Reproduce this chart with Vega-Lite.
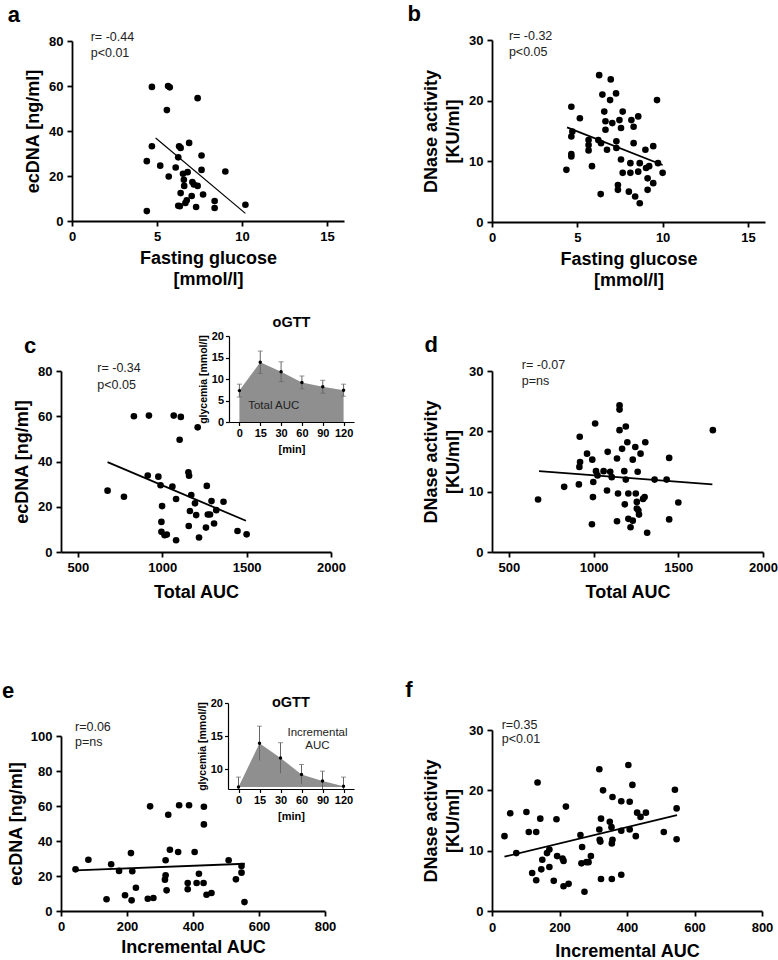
{
"$schema": "https://vega.github.io/schema/vega-lite/v6.json",
"width": 778, "height": 960, "padding": 0, "autosize": {"type": "none"},
"background": "white",
"config": {
 "view": {"stroke": null},
 "font": "Liberation Sans",
 "axis": {"grid": false, "domainColor": "#000", "tickColor": "#000", "labelColor": "#000", "titleColor": "#000", "labelFont": "Liberation Sans", "titleFont": "Liberation Sans", "labelFontWeight": "bold", "titleFontWeight": "bold", "labelFontSize": 13, "titleFontSize": 18, "domainWidth": 1.8, "tickWidth": 1.8, "tickSize": 5, "labelFlush": false, "labelOverlap": false, "format": "d"}
},
"datasets": {
 "a": [
  {"glucose":4.70,"ecdna":59.6},{"glucose":5.65,"ecdna":60.0},{"glucose":5.75,"ecdna":59.4},{"glucose":7.39,"ecdna":54.6},{"glucose":5.58,"ecdna":49.3},{"glucose":4.70,"ecdna":33.2},{"glucose":6.30,"ecdna":33.2},{"glucose":6.39,"ecdna":32.5},{"glucose":6.89,"ecdna":34.7},{"glucose":6.25,"ecdna":28.3},{"glucose":7.62,"ecdna":29.1},{"glucose":4.40,"ecdna":26.6},{"glucose":5.19,"ecdna":24.6},{"glucose":6.10,"ecdna":23.8},{"glucose":7.62,"ecdna":22.7},{"glucose":9.02,"ecdna":22.0},{"glucose":5.69,"ecdna":19.8},{"glucose":6.53,"ecdna":21.0},{"glucose":6.80,"ecdna":21.7},{"glucose":6.58,"ecdna":18.3},{"glucose":6.60,"ecdna":15.6},{"glucose":7.08,"ecdna":17.3},{"glucose":7.17,"ecdna":16.2},{"glucose":7.39,"ecdna":15.6},{"glucose":6.39,"ecdna":12.4},{"glucose":7.71,"ecdna":11.8},{"glucose":7.04,"ecdna":11.1},{"glucose":6.75,"ecdna":9.2},{"glucose":6.67,"ecdna":8.0},{"glucose":6.34,"ecdna":6.6},{"glucose":6.25,"ecdna":6.8},{"glucose":7.30,"ecdna":6.2},{"glucose":8.39,"ecdna":8.9},{"glucose":8.39,"ecdna":5.8},{"glucose":10.2,"ecdna":7.2},{"glucose":4.40,"ecdna":4.4}
 ],
 "b": [
  {"glucose":4.36,"dnase":8.6},{"glucose":4.65,"dnase":19.0},{"glucose":4.65,"dnase":14.1},{"glucose":4.65,"dnase":10.8},{"glucose":4.65,"dnase":11.2},{"glucose":4.71,"dnase":14.9},{"glucose":5.15,"dnase":17.1},{"glucose":5.66,"dnase":13.5},{"glucose":5.66,"dnase":12.7},{"glucose":5.66,"dnase":11.8},{"glucose":5.86,"dnase":9.2},{"glucose":6.23,"dnase":13.5},{"glucose":6.28,"dnase":24.2},{"glucose":6.37,"dnase":4.6},{"glucose":6.39,"dnase":13.0},{"glucose":6.47,"dnase":21.0},{"glucose":6.58,"dnase":18.2},{"glucose":6.65,"dnase":16.6},{"glucose":6.65,"dnase":15.2},{"glucose":6.74,"dnase":11.9},{"glucose":6.92,"dnase":20.1},{"glucose":6.96,"dnase":23.5},{"glucose":7.05,"dnase":16.3},{"glucose":7.27,"dnase":21.2},{"glucose":7.29,"dnase":13.3},{"glucose":7.29,"dnase":12.2},{"glucose":7.47,"dnase":16.8},{"glucose":7.56,"dnase":15.5},{"glucose":7.66,"dnase":18.2},{"glucose":7.56,"dnase":10.3},{"glucose":7.38,"dnase":6.1},{"glucose":7.38,"dnase":5.3},{"glucose":7.66,"dnase":8.1},{"glucose":8.02,"dnase":5.0},{"glucose":8.11,"dnase":9.7},{"glucose":8.11,"dnase":8.1},{"glucose":8.17,"dnase":16.8},{"glucose":8.30,"dnase":15.7},{"glucose":8.30,"dnase":13.0},{"glucose":8.39,"dnase":4.2},{"glucose":8.57,"dnase":17.4},{"glucose":8.57,"dnase":8.3},{"glucose":8.66,"dnase":3.1},{"glucose":8.66,"dnase":9.7},{"glucose":8.99,"dnase":11.9},{"glucose":9.03,"dnase":8.9},{"glucose":9.12,"dnase":7.2},{"glucose":9.12,"dnase":5.3},{"glucose":9.21,"dnase":9.2},{"glucose":9.45,"dnase":12.5},{"glucose":9.45,"dnase":6.4},{"glucose":9.73,"dnase":9.7},{"glucose":9.67,"dnase":20.1},{"glucose":10.0,"dnase":8.1}
 ],
 "c": [
  {"auc":676,"ecdna":27.1},{"auc":773,"ecdna":24.4},{"auc":832,"ecdna":60.0},{"auc":921,"ecdna":60.3},{"auc":914,"ecdna":33.8},{"auc":977,"ecdna":33.3},{"auc":990,"ecdna":29.5},{"auc":999,"ecdna":20.3},{"auc":995,"ecdna":13.3},{"auc":995,"ecdna":8.9},{"auc":1014,"ecdna":7.4},{"auc":1027,"ecdna":7.7},{"auc":1082,"ecdna":5.2},{"auc":1060,"ecdna":28.9},{"auc":1068,"ecdna":60.3},{"auc":1110,"ecdna":59.7},{"auc":1103,"ecdna":49.6},{"auc":1082,"ecdna":23.4},{"auc":1157,"ecdna":11.5},{"auc":1155,"ecdna":35.2},{"auc":1159,"ecdna":33.7},{"auc":1172,"ecdna":25.2},{"auc":1164,"ecdna":18.1},{"auc":1194,"ecdna":21.5},{"auc":1201,"ecdna":16.3},{"auc":1210,"ecdna":55.1},{"auc":1218,"ecdna":6.4},{"auc":1259,"ecdna":10.8},{"auc":1264,"ecdna":29.2},{"auc":1270,"ecdna":16.6},{"auc":1283,"ecdna":16.6},{"auc":1292,"ecdna":22.5},{"auc":1307,"ecdna":12.6},{"auc":1320,"ecdna":18.5},{"auc":1363,"ecdna":22.2},{"auc":1446,"ecdna":9.3},{"auc":1500,"ecdna":7.8}
 ],
 "d": [
  {"auc":672,"dnase":8.7},{"auc":826,"dnase":10.8},{"auc":913,"dnase":11.2},{"auc":916,"dnase":14.1},{"auc":920,"dnase":14.9},{"auc":918,"dnase":19.1},{"auc":961,"dnase":16.3},{"auc":992,"dnase":15.3},{"auc":998,"dnase":11.6},{"auc":996,"dnase":9.1},{"auc":990,"dnase":4.6},{"auc":1009,"dnase":21.3},{"auc":1014,"dnase":13.4},{"auc":1023,"dnase":12.7},{"auc":1059,"dnase":13.4},{"auc":1083,"dnase":16.6},{"auc":1079,"dnase":10.2},{"auc":1098,"dnase":13.3},{"auc":1107,"dnase":12.4},{"auc":1138,"dnase":15.5},{"auc":1144,"dnase":9.7},{"auc":1138,"dnase":5.1},{"auc":1153,"dnase":24.3},{"auc":1153,"dnase":23.6},{"auc":1153,"dnase":20.2},{"auc":1168,"dnase":17.1},{"auc":1181,"dnase":13.4},{"auc":1190,"dnase":20.8},{"auc":1190,"dnase":12.0},{"auc":1184,"dnase":7.9},{"auc":1199,"dnase":18.2},{"auc":1205,"dnase":9.7},{"auc":1205,"dnase":5.5},{"auc":1218,"dnase":4.1},{"auc":1231,"dnase":15.3},{"auc":1231,"dnase":5.2},{"auc":1246,"dnase":17.4},{"auc":1249,"dnase":9.7},{"auc":1255,"dnase":8.3},{"auc":1255,"dnase":7.2},{"auc":1264,"dnase":6.9},{"auc":1268,"dnase":6.2},{"auc":1277,"dnase":16.3},{"auc":1260,"dnase":13.3},{"auc":1292,"dnase":8.8},{"auc":1301,"dnase":9.1},{"auc":1305,"dnase":18.2},{"auc":1316,"dnase":3.2},{"auc":1360,"dnase":12.0},{"auc":1431,"dnase":12.0},{"auc":1446,"dnase":15.6},{"auc":1446,"dnase":5.4},{"auc":1500,"dnase":8.2},{"auc":1704,"dnase":20.2}
 ],
 "e": [
  {"iauc":44,"ecdna":23.8},{"iauc":83,"ecdna":29.3},{"iauc":152,"ecdna":26.7},{"iauc":176,"ecdna":22.9},{"iauc":138,"ecdna":6.7},{"iauc":194,"ecdna":9.0},{"iauc":212,"ecdna":33.1},{"iauc":214,"ecdna":6.1},{"iauc":216,"ecdna":22.7},{"iauc":227,"ecdna":13.3},{"iauc":263,"ecdna":7.0},{"iauc":280,"ecdna":7.4},{"iauc":270,"ecdna":59.8},{"iauc":317,"ecdna":29.0},{"iauc":317,"ecdna":20.4},{"iauc":315,"ecdna":17.9},{"iauc":320,"ecdna":11.8},{"iauc":325,"ecdna":55.0},{"iauc":330,"ecdna":35.0},{"iauc":355,"ecdna":33.7},{"iauc":358,"ecdna":60.4},{"iauc":384,"ecdna":16.0},{"iauc":384,"ecdna":12.4},{"iauc":388,"ecdna":60.4},{"iauc":405,"ecdna":33.7},{"iauc":411,"ecdna":16.0},{"iauc":418,"ecdna":21.3},{"iauc":432,"ecdna":16.0},{"iauc":441,"ecdna":9.3},{"iauc":456,"ecdna":10.3},{"iauc":433,"ecdna":59.6},{"iauc":433,"ecdna":49.5},{"iauc":508,"ecdna":29.0},{"iauc":547,"ecdna":25.7},{"iauc":547,"ecdna":21.9},{"iauc":530,"ecdna":18.1},{"iauc":556,"ecdna":5.1}
 ],
 "f": [
  {"iauc":37,"dnase":12.4},{"iauc":54,"dnase":16.2},{"iauc":72,"dnase":9.6},{"iauc":102,"dnase":16.4},{"iauc":109,"dnase":13.1},{"iauc":119,"dnase":6.3},{"iauc":131,"dnase":13.1},{"iauc":131,"dnase":5.1},{"iauc":135,"dnase":21.3},{"iauc":143,"dnase":15.3},{"iauc":146,"dnase":6.9},{"iauc":149,"dnase":8.5},{"iauc":163,"dnase":9.6},{"iauc":170,"dnase":10.2},{"iauc":170,"dnase":7.3},{"iauc":183,"dnase":5.0},{"iauc":191,"dnase":15.2},{"iauc":193,"dnase":9.1},{"iauc":209,"dnase":8.7},{"iauc":212,"dnase":8.3},{"iauc":212,"dnase":4.1},{"iauc":227,"dnase":4.5},{"iauc":219,"dnase":17.3},{"iauc":262,"dnase":12.6},{"iauc":265,"dnase":7.9},{"iauc":267,"dnase":10.6},{"iauc":274,"dnase":3.2},{"iauc":280,"dnase":8.1},{"iauc":286,"dnase":8.1},{"iauc":293,"dnase":9.1},{"iauc":318,"dnase":23.5},{"iauc":318,"dnase":13.5},{"iauc":319,"dnase":11.8},{"iauc":321,"dnase":11.5},{"iauc":323,"dnase":15.3},{"iauc":323,"dnase":5.3},{"iauc":329,"dnase":20.0},{"iauc":349,"dnase":14.8},{"iauc":354,"dnase":13.9},{"iauc":355,"dnase":11.2},{"iauc":357,"dnase":11.8},{"iauc":357,"dnase":18.9},{"iauc":355,"dnase":5.3},{"iauc":383,"dnase":18.2},{"iauc":383,"dnase":13.3},{"iauc":383,"dnase":6.0},{"iauc":404,"dnase":24.2},{"iauc":408,"dnase":18.1},{"iauc":408,"dnase":13.5},{"iauc":416,"dnase":20.9},{"iauc":426,"dnase":12.4},{"iauc":430,"dnase":16.3},{"iauc":440,"dnase":15.6},{"iauc":456,"dnase":16.3},{"iauc":509,"dnase":13.1},{"iauc":542,"dnase":20.1},{"iauc":547,"dnase":17.0},{"iauc":547,"dnase":11.9}
 ],
 "ogtt": [
  {"time":"0","glyc":7.3,"lo":5.8,"hi":8.8},
  {"time":"15","glyc":13.9,"lo":11.3,"hi":16.5},
  {"time":"30","glyc":11.7,"lo":9.4,"hi":14.0},
  {"time":"60","glyc":9.2,"lo":7.7,"hi":10.7},
  {"time":"90","glyc":8.2,"lo":6.7,"hi":9.7},
  {"time":"120","glyc":7.4,"lo":6.0,"hi":8.8}
 ]
},
"layer": [
 {
  "data": {"name": "a"},
  "layer": [
   {"mark": {"type": "circle", "size": 44, "color": "#000", "opacity": 1},
    "encoding": {
     "x": {"field": "glucose", "type": "quantitative", "scale": {"domain": [0, 15], "range": [72, 344]}, "axis": {"orient": "bottom", "offset": -739, "values": [0, 5, 10, 15], "title": ["Fasting glucose", "[mmol/l]"], "titleLineHeight": 21, "labelPadding": 4, "titlePadding": 6}},
     "y": {"field": "ecdna", "type": "quantitative", "scale": {"domain": [0, 80], "range": [221, 41]}, "axis": {"orient": "left", "offset": -72, "values": [0, 20, 40, 60, 80], "title": "ecDNA [ng/ml]", "labelPadding": 4, "titlePadding": 6}}}},
   {"data": {"values": [{"glucose": 4.92, "ecdna": 36.9}, {"glucose": 10.2, "ecdna": 3.4}]},
    "mark": {"type": "line", "color": "#000", "strokeWidth": 1.2},
    "encoding": {"x": {"field": "glucose", "type": "quantitative"}, "y": {"field": "ecdna", "type": "quantitative"}}},
   {"data": {"values": [{}]},
    "mark": {"type": "text", "text": ["r= -0.44", "p<0.01"], "align": "left", "baseline": "top", "fontSize": 12.5, "lineHeight": 16.5, "color": "#222"},
    "encoding": {"x": {"datum": 1.1}, "y": {"datum": 84.6}}},
   {"data": {"values": [{}]},
    "mark": {"type": "text", "text": "a", "align": "center", "baseline": "middle", "fontSize": 22, "fontWeight": "bold", "color": "#000"},
    "encoding": {"x": {"datum": -3.42}, "y": {"datum": 91.4}}}
  ]
 },
 {
  "data": {"name": "b"},
  "layer": [
   {"mark": {"type": "circle", "size": 44, "color": "#000", "opacity": 1},
    "encoding": {
     "x": {"field": "glucose", "type": "quantitative", "scale": {"domain": [0, 15], "range": [492, 765]}, "axis": {"orient": "bottom", "offset": -738, "values": [0, 5, 10, 15], "title": ["Fasting glucose", "[mmol/l]"], "titleLineHeight": 21, "labelPadding": 4, "titlePadding": 6}},
     "y": {"field": "dnase", "type": "quantitative", "scale": {"domain": [0, 30], "range": [222, 40]}, "axis": {"orient": "left", "offset": -492, "values": [0, 10, 20, 30], "title": ["DNase activity", "[KU/ml]"], "titleLineHeight": 22, "labelPadding": 4, "titlePadding": 6}}}},
   {"data": {"values": [{"glucose": 4.4, "dnase": 15.6}, {"glucose": 10.0, "dnase": 9.4}]},
    "mark": {"type": "line", "color": "#000", "strokeWidth": 1.8},
    "encoding": {"x": {"field": "glucose", "type": "quantitative"}, "y": {"field": "dnase", "type": "quantitative"}}},
   {"data": {"values": [{}]},
    "mark": {"type": "text", "text": ["r= -0.32", "p<0.05"], "align": "left", "baseline": "top", "fontSize": 12.5, "lineHeight": 16.5, "color": "#222"},
    "encoding": {"x": {"datum": 0.99}, "y": {"datum": 31.73}}},
   {"data": {"values": [{}]},
    "mark": {"type": "text", "text": "b", "align": "center", "baseline": "middle", "fontSize": 22, "fontWeight": "bold", "color": "#000"},
    "encoding": {"x": {"datum": -4.56}, "y": {"datum": 34.3}}}
  ]
 },
 {
  "data": {"name": "c"},
  "layer": [
   {"mark": {"type": "circle", "size": 44, "color": "#000", "opacity": 1},
    "encoding": {
     "x": {"field": "auc", "type": "quantitative", "scale": {"domain": [500, 2000], "range": [61, 331]}, "axis": {"orient": "bottom", "offset": -408, "values": [500, 1000, 1500, 2000], "title": "Total AUC", "labelPadding": 4, "titlePadding": 9}},
     "y": {"field": "ecdna", "type": "quantitative", "scale": {"domain": [0, 80], "range": [552, 371]}, "axis": {"orient": "left", "offset": -61, "values": [0, 20, 40, 60, 80], "title": "ecDNA [ng/ml]", "labelPadding": 4, "titlePadding": 6}}}},
   {"data": {"values": [{"auc": 676, "ecdna": 39.7}, {"auc": 1496, "ecdna": 13.8}]},
    "mark": {"type": "line", "color": "#000", "strokeWidth": 1.8},
    "encoding": {"x": {"field": "auc", "type": "quantitative"}, "y": {"field": "ecdna", "type": "quantitative"}}},
   {"data": {"values": [{}]},
    "mark": {"type": "text", "text": ["r= -0.34", "p<0.05"], "align": "left", "baseline": "top", "fontSize": 12.5, "lineHeight": 16.5, "color": "#222"},
    "encoding": {"x": {"datum": 615}, "y": {"datum": 83.9}}},
   {"data": {"values": [{}]},
    "mark": {"type": "text", "text": "c", "align": "center", "baseline": "middle", "fontSize": 22, "fontWeight": "bold", "color": "#000"},
    "encoding": {"x": {"datum": 217}, "y": {"datum": 91}}}
  ]
 },
 {
  "data": {"name": "ogtt"},
  "layer": [
   {"mark": {"type": "area", "color": "#8f8f8f", "opacity": 1},
    "encoding": {
     "x": {"field": "time", "type": "ordinal", "sort": null, "scale": {"type": "point", "domain": ["0", "15", "30", "60", "90", "120"], "range": [229, 354], "padding": 0.5}, "axis": {"orient": "bottom", "offset": -538, "title": "[min]", "labelFontSize": 11, "titleFontSize": 11, "labelAngle": 0, "tickSize": 3.5, "domainWidth": 1.2, "tickWidth": 1.2, "labelPadding": 2, "titlePadding": 5, "format": null}},
     "y": {"field": "glyc", "type": "quantitative", "scale": {"domain": [0, 20], "range": [422, 336]}, "axis": {"orient": "left", "offset": -229, "values": [0, 5, 10, 15, 20], "title": "glycemia [mmol/l]", "labelFontSize": 11, "titleFontSize": 10.5, "tickSize": 3.5, "domainWidth": 1.2, "tickWidth": 1.2, "labelPadding": 2, "titlePadding": 3}}}},
   {"mark": {"type": "rule", "color": "#666", "strokeWidth": 1},
    "encoding": {"x": {"field": "time", "type": "ordinal"}, "y": {"field": "lo", "type": "quantitative"}, "y2": {"field": "hi"}}},
   {"mark": {"type": "tick", "color": "#666", "size": 5, "thickness": 1, "orient": "horizontal"},
    "encoding": {"x": {"field": "time", "type": "ordinal"}, "y": {"field": "lo", "type": "quantitative"}}},
   {"mark": {"type": "tick", "color": "#666", "size": 5, "thickness": 1, "orient": "horizontal"},
    "encoding": {"x": {"field": "time", "type": "ordinal"}, "y": {"field": "hi", "type": "quantitative"}}},
   {"mark": {"type": "circle", "size": 12, "color": "#000", "opacity": 1},
    "encoding": {"x": {"field": "time", "type": "ordinal"}, "y": {"field": "glyc", "type": "quantitative"}}},
   {"data": {"values": [{}]},
    "mark": {"type": "text", "text": "oGTT", "align": "center", "baseline": "middle", "fontSize": 14.5, "fontWeight": "bold", "color": "#000", "dx": 10.4},
    "encoding": {"x": {"datum": "30", "type": "ordinal"}, "y": {"datum": 23.1}}},
   {"data": {"values": [{}]},
    "mark": {"type": "text", "text": "Total AUC", "align": "center", "baseline": "middle", "fontSize": 11.5, "color": "#222", "dx": 13.5},
    "encoding": {"x": {"datum": "15", "type": "ordinal"}, "y": {"datum": 3.8}}}
  ]
 },
 {
  "data": {"name": "d"},
  "layer": [
   {"mark": {"type": "circle", "size": 44, "color": "#000", "opacity": 1},
    "encoding": {
     "x": {"field": "auc", "type": "quantitative", "scale": {"domain": [500, 2000], "range": [492, 763]}, "axis": {"orient": "bottom", "offset": -408, "values": [500, 1000, 1500, 2000], "title": "Total AUC", "labelPadding": 4, "titlePadding": 9}},
     "y": {"field": "dnase", "type": "quantitative", "scale": {"domain": [0, 30], "range": [552, 371]}, "axis": {"orient": "left", "offset": -492, "values": [0, 10, 20, 30], "title": ["DNase activity", "[KU/ml]"], "titleLineHeight": 22, "labelPadding": 4, "titlePadding": 6}}}},
   {"data": {"values": [{"auc": 678, "dnase": 13.4}, {"auc": 1701, "dnase": 11.2}]},
    "mark": {"type": "line", "color": "#000", "strokeWidth": 1.8},
    "encoding": {"x": {"field": "auc", "type": "quantitative"}, "y": {"field": "dnase", "type": "quantitative"}}},
   {"data": {"values": [{}]},
    "mark": {"type": "text", "text": ["r= -0.07", "p=ns"], "align": "left", "baseline": "top", "fontSize": 12.5, "lineHeight": 16.5, "color": "#222"},
    "encoding": {"x": {"datum": 576}, "y": {"datum": 32.0}}},
   {"data": {"values": [{}]},
    "mark": {"type": "text", "text": "d", "align": "center", "baseline": "middle", "fontSize": 22, "fontWeight": "bold", "color": "#000"},
    "encoding": {"x": {"datum": 41}, "y": {"datum": 34.3}}}
  ]
 },
 {
  "data": {"name": "e"},
  "layer": [
   {"mark": {"type": "circle", "size": 44, "color": "#000", "opacity": 1},
    "encoding": {
     "x": {"field": "iauc", "type": "quantitative", "scale": {"domain": [0, 800], "range": [61, 325]}, "axis": {"orient": "bottom", "offset": -49, "values": [0, 200, 400, 600, 800], "title": "Incremental AUC", "labelPadding": 4, "titlePadding": 5}},
     "y": {"field": "ecdna", "type": "quantitative", "scale": {"domain": [0, 100], "range": [911, 736]}, "axis": {"orient": "left", "offset": -61, "values": [0, 20, 40, 60, 80, 100], "title": "ecDNA [ng/ml]", "labelPadding": 4, "titlePadding": 5}}}},
   {"data": {"values": [{"iauc": 44, "ecdna": 23.2}, {"iauc": 557, "ecdna": 27.0}]},
    "mark": {"type": "line", "color": "#000", "strokeWidth": 1.8},
    "encoding": {"x": {"field": "iauc", "type": "quantitative"}, "y": {"field": "ecdna", "type": "quantitative"}}},
   {"data": {"values": [{}]},
    "mark": {"type": "text", "text": ["r=0.06", "p=ns"], "align": "left", "baseline": "top", "fontSize": 12.5, "lineHeight": 15, "color": "#222"},
    "encoding": {"x": {"datum": 42.4}, "y": {"datum": 108.5}}},
   {"data": {"values": [{}]},
    "mark": {"type": "text", "text": "e", "align": "center", "baseline": "middle", "fontSize": 22, "fontWeight": "bold", "color": "#000"},
    "encoding": {"x": {"datum": -160}, "y": {"datum": 126}}}
  ]
 },
 {
  "data": {"name": "ogtt"},
  "layer": [
   {"mark": {"type": "area", "color": "#8f8f8f", "opacity": 1},
    "encoding": {
     "x": {"field": "time", "type": "ordinal", "sort": null, "scale": {"type": "point", "domain": ["0", "15", "30", "60", "90", "120"], "range": [228, 354], "padding": 0.5}, "axis": {"orient": "bottom", "offset": -171, "title": "[min]", "labelFontSize": 11, "titleFontSize": 11, "labelAngle": 0, "tickSize": 3.5, "domainWidth": 1.2, "tickWidth": 1.2, "labelPadding": 2, "titlePadding": 5, "format": null}},
     "y": {"field": "glyc", "type": "quantitative", "scale": {"domain": [7, 20], "range": [789, 703], "clamp": true, "zero": false}, "axis": {"orient": "left", "offset": -228, "values": [10, 15, 20], "title": "glycemia [mmol/l]", "labelFontSize": 11, "titleFontSize": 10.5, "tickSize": 3.5, "domainWidth": 1.2, "tickWidth": 1.2, "labelPadding": 2, "titlePadding": 3}},
     "y2": {"datum": 7.3}}},
   {"mark": {"type": "rule", "color": "#666", "strokeWidth": 1},
    "encoding": {"x": {"field": "time", "type": "ordinal"}, "y": {"field": "lo", "type": "quantitative"}, "y2": {"field": "hi"}}},
   {"mark": {"type": "tick", "color": "#666", "size": 5, "thickness": 1, "orient": "horizontal"},
    "encoding": {"x": {"field": "time", "type": "ordinal"}, "y": {"field": "hi", "type": "quantitative"}}},
   {"mark": {"type": "circle", "size": 12, "color": "#000", "opacity": 1},
    "encoding": {"x": {"field": "time", "type": "ordinal"}, "y": {"field": "glyc", "type": "quantitative"}}},
   {"data": {"values": [{}]},
    "mark": {"type": "text", "text": "oGTT", "align": "center", "baseline": "middle", "fontSize": 14.5, "fontWeight": "bold", "color": "#000", "dx": 10.4},
    "encoding": {"x": {"datum": "30", "type": "ordinal"}, "y": {"datum": 22.07}}},
   {"data": {"values": [{}]},
    "mark": {"type": "text", "text": ["Incremental", "AUC"], "align": "center", "baseline": "middle", "fontSize": 11.5, "lineHeight": 13, "color": "#222", "dx": 16},
    "encoding": {"x": {"datum": "60", "type": "ordinal"}, "y": {"datum": 15.5}}}
  ]
 },
 {
  "data": {"name": "f"},
  "layer": [
   {"mark": {"type": "circle", "size": 44, "color": "#000", "opacity": 1},
    "encoding": {
     "x": {"field": "iauc", "type": "quantitative", "scale": {"domain": [0, 800], "range": [492, 762]}, "axis": {"orient": "bottom", "offset": -49, "values": [0, 200, 400, 600, 800], "title": "Incremental AUC", "labelPadding": 5, "titlePadding": 8}},
     "y": {"field": "dnase", "type": "quantitative", "scale": {"domain": [0, 30], "range": [911, 730]}, "axis": {"orient": "left", "offset": -492, "values": [0, 10, 20, 30], "title": ["DNase activity", "[KU/ml]"], "titleLineHeight": 22, "labelPadding": 4, "titlePadding": 6}}}},
   {"data": {"values": [{"iauc": 37, "dnase": 9.0}, {"iauc": 548, "dnase": 15.9}]},
    "mark": {"type": "line", "color": "#000", "strokeWidth": 1.8},
    "encoding": {"x": {"field": "iauc", "type": "quantitative"}, "y": {"field": "dnase", "type": "quantitative"}}},
   {"data": {"values": [{}]},
    "mark": {"type": "text", "text": ["r=0.35", "p<0.01"], "align": "left", "baseline": "top", "fontSize": 12.5, "lineHeight": 14.5, "color": "#222"},
    "encoding": {"x": {"datum": 28.7}, "y": {"datum": 31.86}}},
   {"data": {"values": [{}]},
    "mark": {"type": "text", "text": "f", "align": "center", "baseline": "middle", "fontSize": 22, "fontWeight": "bold", "color": "#000"},
    "encoding": {"x": {"datum": -246}, "y": {"datum": 36.6}}}
  ]
 }
],
"resolve": {"scale": {"x": "independent", "y": "independent"}, "axis": {"x": "independent", "y": "independent"}}
}
